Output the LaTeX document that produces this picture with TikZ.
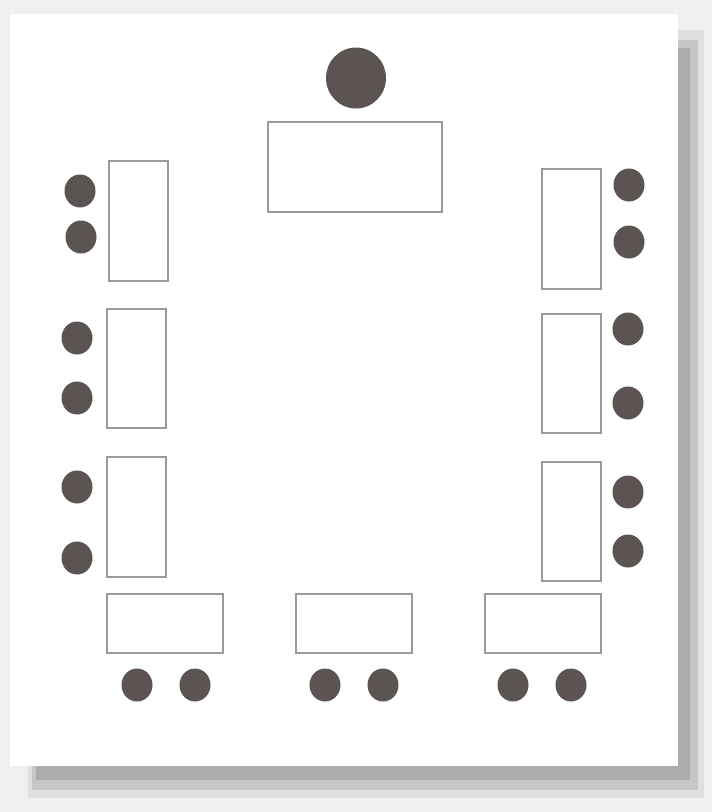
\documentclass[tikz,border=0pt]{standalone}
\usetikzlibrary{shapes.geometric}
\begin{document}
\begin{tikzpicture}[x=1pt,y=-1pt,
  seat/.style={ellipse,fill=seatc,inner sep=0pt,minimum width=31pt,minimum height=33pt},
  desk/.style={draw=deskc,line width=1.3pt,fill=white}]
\definecolor{seatc}{HTML}{5C5353}
\definecolor{deskc}{HTML}{9A9A9A}
\useasboundingbox (0,0) rectangle (712,812);
\fill[gray!12] (0,0) rectangle (712,812);
% shadow layers
\fill[gray!25] (28,30) rectangle (704,798);
\fill[gray!45] (32,40) rectangle (698,790);
\fill[gray!65] (36,48) rectangle (690,780);
\fill[white] (10,14) rectangle (678,766);
% front
\node[seat,minimum width=60pt,minimum height=61pt] (t) at (356,78) {};
\node[desk,minimum width=174pt,minimum height=90pt] (T) at (355,167) {};
% left desks
\node[desk,minimum width=59pt,minimum height=120pt] (L1) at (138.5,221) {};
\node[desk,minimum width=59pt,minimum height=119pt] (L2) at (136.5,368.5) {};
\node[desk,minimum width=59pt,minimum height=120pt] (L3) at (136.5,517) {};
\node[seat] (l1a) at (80,191) {};
\node[seat] (l1b) at (81,237) {};
\node[seat] (l2a) at (77,338) {};
\node[seat] (l2b) at (77,398) {};
\node[seat] (l3a) at (77,487) {};
\node[seat] (l3b) at (77,558) {};
% right desks
\node[desk,minimum width=59pt,minimum height=120pt] (R1) at (571.5,229) {};
\node[desk,minimum width=59pt,minimum height=119pt] (R2) at (571.5,373.5) {};
\node[desk,minimum width=59pt,minimum height=119pt] (R3) at (571.5,521.5) {};
\node[seat] (r1a) at (629,185) {};
\node[seat] (r1b) at (629,242) {};
\node[seat] (r2a) at (628,329) {};
\node[seat] (r2b) at (628,403) {};
\node[seat] (r3a) at (628,492) {};
\node[seat] (r3b) at (628,551) {};
% bottom desks
\node[desk,minimum width=116pt,minimum height=59pt] (B1) at (165,623.5) {};
\node[desk,minimum width=116pt,minimum height=59pt] (B2) at (354,623.5) {};
\node[desk,minimum width=116pt,minimum height=59pt] (B3) at (543,623.5) {};
\node[seat] (b1a) at (137,685) {};
\node[seat] (b1b) at (195,685) {};
\node[seat] (b2a) at (325,685) {};
\node[seat] (b2b) at (383,685) {};
\node[seat] (b3a) at (513,685) {};
\node[seat] (b3b) at (571,685) {};
\end{tikzpicture}
\end{document}
